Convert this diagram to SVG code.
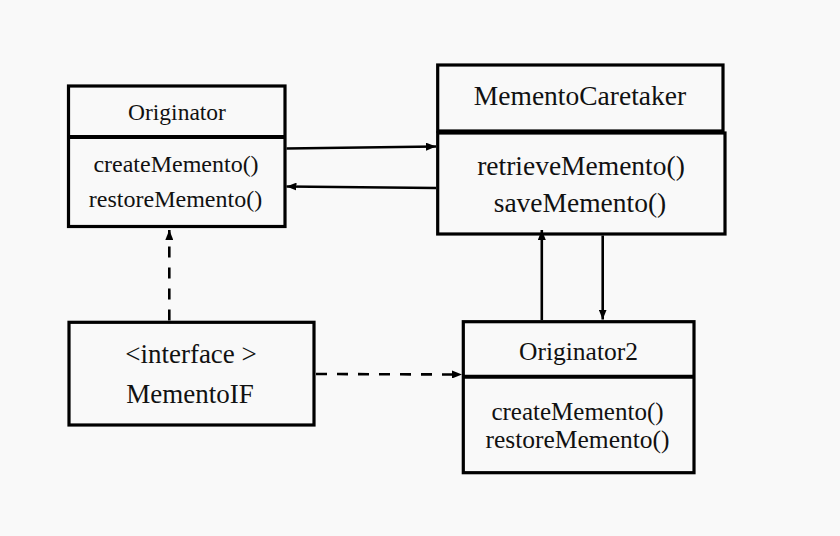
<svg xmlns="http://www.w3.org/2000/svg" width="840" height="536" viewBox="0 0 840 536">
<style>
.box{fill:#f9f9f9;stroke:#000;stroke-width:3.2}
.div{stroke:#000;stroke-width:4}
.t{font-family:"Liberation Serif","Times New Roman",serif;fill:#111;text-anchor:middle}
.ln{stroke:#000;stroke-width:2.6;fill:none}
.dash{stroke-dasharray:11 10}
</style>
<defs>
<marker id="ah" viewBox="0 0 10 8" refX="10" refY="4" markerWidth="10" markerHeight="8" markerUnits="userSpaceOnUse" orient="auto">
<path d="M0,0 L10,4 L0,8 Z" fill="#000"/>
</marker>
</defs>
<rect width="840" height="536" fill="#f9f9f9"/>
<g id="originator">
<rect class="box" x="68.5" y="86" width="216.5" height="140.5"/>
<line class="div" x1="68.5" y1="137" x2="285" y2="137"/>
<text class="t" x="177" y="120" font-size="23.5">Originator</text>
<text class="t" x="176" y="172" font-size="24">createMemento()</text>
<text class="t" x="175.5" y="207" font-size="24">restoreMemento()</text>
</g>
<g id="caretaker">
<rect class="box" x="437.7" y="65" width="285.3" height="66"/>
<rect class="box" x="437.7" y="133" width="287.3" height="101"/>
<text class="t" x="580" y="105" font-size="27.5">MementoCaretaker</text>
<text class="t" x="581" y="175" font-size="27.5">retrieveMemento()</text>
<text class="t" x="580" y="212" font-size="27.5">saveMemento()</text>
</g>
<g id="mementoif">
<rect class="box" x="69" y="322.3" width="245" height="102.7"/>
<text class="t" x="191" y="363" font-size="27">&lt;interface &gt;</text>
<text class="t" x="190" y="403" font-size="27">MementoIF</text>
</g>
<g id="originator2">
<rect class="box" x="463.3" y="321.7" width="230.7" height="151"/>
<line class="div" x1="463.3" y1="376.7" x2="694" y2="376.7"/>
<text class="t" x="578.5" y="360" font-size="25.5">Originator2</text>
<text class="t" x="577.5" y="420" font-size="25">createMemento()</text>
<text class="t" x="577.5" y="448" font-size="25.5">restoreMemento()</text>
</g>
<g id="connectors">
<line class="ln" x1="286.5" y1="148.5" x2="436" y2="146.5" marker-end="url(#ah)"/>
<line class="ln" x1="436" y1="188" x2="286.5" y2="186.5" marker-end="url(#ah)"/>
<line class="ln dash" x1="169.3" y1="320.5" x2="169.3" y2="230" marker-end="url(#ah)"/>
<line class="ln dash" x1="316" y1="374" x2="462" y2="374.5" marker-end="url(#ah)"/>
<line class="ln" x1="541.8" y1="320" x2="541.8" y2="230" marker-end="url(#ah)"/>
<line class="ln" x1="602.7" y1="235.5" x2="602.7" y2="319.5" marker-end="url(#ah)"/>
</g>
</svg>
